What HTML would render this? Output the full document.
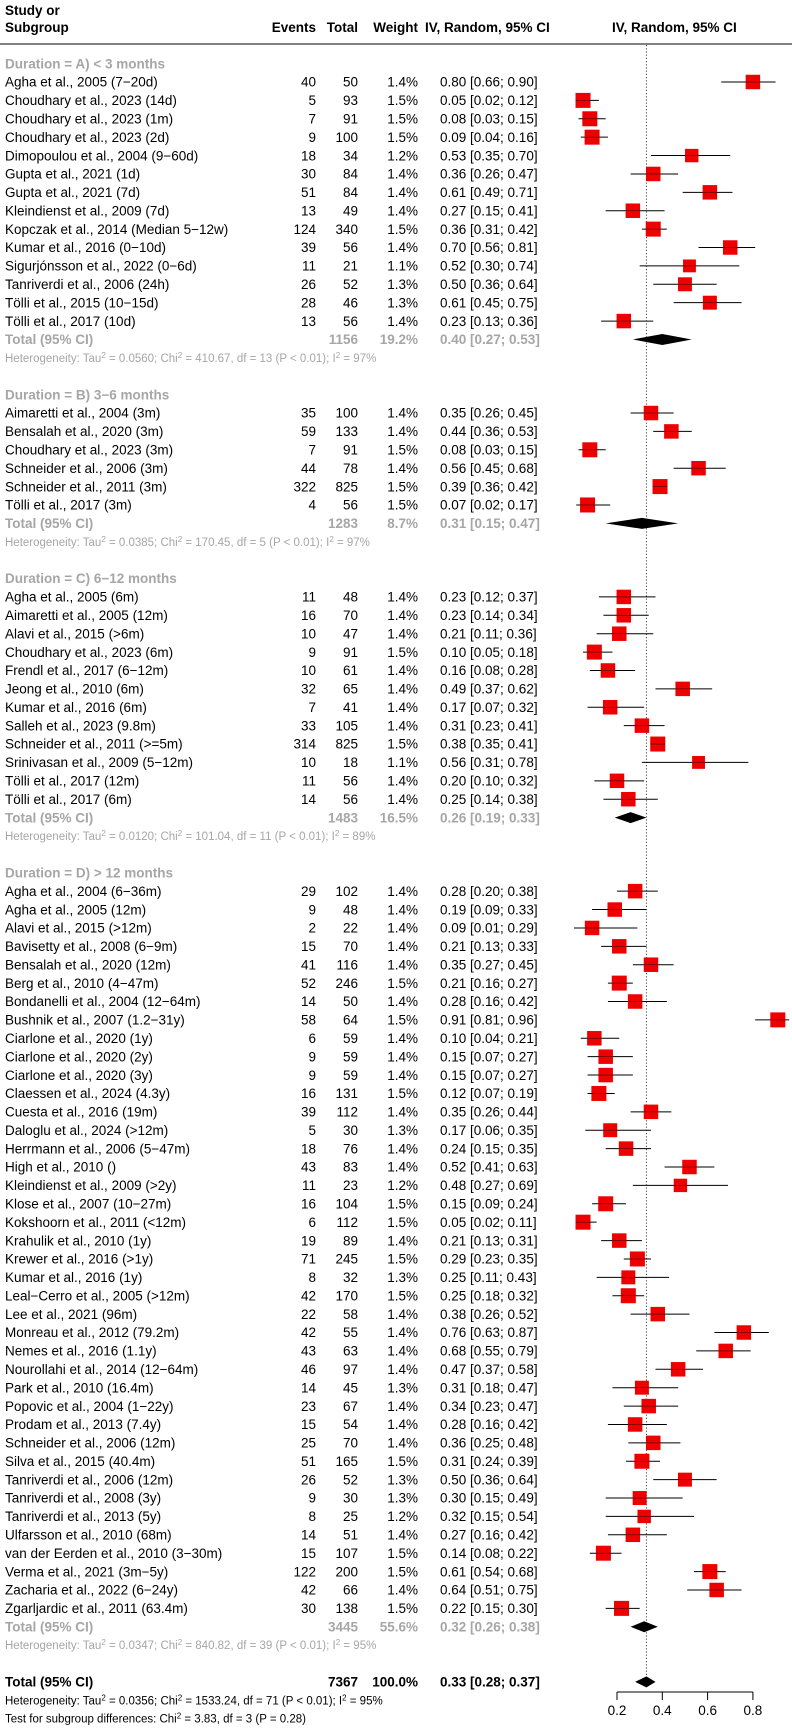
<!DOCTYPE html>
<html><head><meta charset="utf-8"><style>
html,body{margin:0;padding:0;background:#fff;}
svg{display:block;font-family:"Liberation Sans",Arial,sans-serif;}
</style></head><body>
<svg id="plot" width="792" height="1732" viewBox="0 0 792 1732" xmlns="http://www.w3.org/2000/svg">
<g font-size="13.5" font-weight="bold" fill="#000">
<text x="5" y="15">Study or</text>
<text x="5" y="32">Subgroup</text>
<text x="316" y="32" text-anchor="end">Events</text>
<text x="358" y="32" text-anchor="end">Total</text>
<text x="418" y="32" text-anchor="end">Weight</text>
<text x="425" y="32">IV, Random, 95% CI</text>
<text x="612" y="32">IV, Random, 95% CI</text>
</g>
<line x1="0" y1="44" x2="792" y2="44" stroke="#808080" stroke-width="2"/>
<g id="rows"></g>
</svg>
<script>
const groupNames=["Duration = A) < 3 months","Duration = B) 3\u22126 months","Duration = C) 6\u221212 months","Duration = D) > 12 months"];
const groupSizes=[14,6,12,40];
const groupN=[1156,1283,1483,3445];
const groupWeight=["19.2%","8.7%","16.5%","55.6%"];
const groupEst=[0.40,0.31,0.26,0.32];
const groupLo=[0.27,0.15,0.19,0.26];
const groupHi=[0.53,0.47,0.33,0.38];
const groupHet=[["0.0560","410.67","13","97%"],["0.0385","170.45","5","97%"],["0.0120","101.04","11","89%"],["0.0347","840.82","39","95%"]];
const overall={n:7367,w:"100.0%",est:0.33,lo:0.28,hi:0.37,het:["0.0356","1533.24","71","95%"]};
const labels=["Agha et al., 2005 (7\u221220d)","Choudhary et al., 2023 (14d)","Choudhary et al., 2023 (1m)","Choudhary et al., 2023 (2d)","Dimopoulou et al., 2004 (9\u221260d)","Gupta et al., 2021 (1d)","Gupta et al., 2021 (7d)","Kleindienst et al., 2009 (7d)","Kopczak et al., 2014 (Median 5\u221212w)","Kumar et al., 2016 (0\u221210d)","Sigurjónsson et al., 2022 (0\u22126d)","Tanriverdi et al., 2006 (24h)","Tölli et al., 2015 (10\u221215d)","Tölli et al., 2017 (10d)",
"Aimaretti et al., 2004 (3m)","Bensalah et al., 2020 (3m)","Choudhary et al., 2023 (3m)","Schneider et al., 2006 (3m)","Schneider et al., 2011 (3m)","Tölli et al., 2017 (3m)",
"Agha et al., 2005 (6m)","Aimaretti et al., 2005 (12m)","Alavi et al., 2015 (>6m)","Choudhary et al., 2023 (6m)","Frendl et al., 2017 (6\u221212m)","Jeong et al., 2010 (6m)","Kumar et al., 2016 (6m)","Salleh et al., 2023 (9.8m)","Schneider et al., 2011 (>=5m)","Srinivasan et al., 2009 (5\u221212m)","Tölli et al., 2017 (12m)","Tölli et al., 2017 (6m)",
"Agha et al., 2004 (6\u221236m)","Agha et al., 2005 (12m)","Alavi et al., 2015 (>12m)","Bavisetty et al., 2008 (6\u22129m)","Bensalah et al., 2020 (12m)","Berg et al., 2010 (4\u221247m)","Bondanelli et al., 2004 (12\u221264m)","Bushnik et al., 2007 (1.2\u221231y)","Ciarlone et al., 2020 (1y)","Ciarlone et al., 2020 (2y)","Ciarlone et al., 2020 (3y)","Claessen et al., 2024 (4.3y)","Cuesta et al., 2016 (19m)","Daloglu et al., 2024 (>12m)","Herrmann et al., 2006 (5\u221247m)","High et al., 2010 ()","Kleindienst et al., 2009 (>2y)","Klose et al., 2007 (10\u221227m)","Kokshoorn et al., 2011 (<12m)","Krahulik et al., 2010 (1y)","Krewer et al., 2016 (>1y)","Kumar et al., 2016 (1y)","Leal\u2212Cerro et al., 2005 (>12m)","Lee et al., 2021 (96m)","Monreau et al., 2012 (79.2m)","Nemes et al., 2016 (1.1y)","Nourollahi et al., 2014 (12\u221264m)","Park et al., 2010 (16.4m)","Popovic et al., 2004 (1\u221222y)","Prodam et al., 2013 (7.4y)","Schneider et al., 2006 (12m)","Silva et al., 2015 (40.4m)","Tanriverdi et al., 2006 (12m)","Tanriverdi et al., 2008 (3y)","Tanriverdi et al., 2013 (5y)","Ulfarsson et al., 2010 (68m)","van der Eerden et al., 2010 (3\u221230m)","Verma et al., 2021 (3m\u22125y)","Zacharia et al., 2022 (6\u221224y)","Zgarljardic et al., 2011 (63.4m)"];
const events=[40,5,7,9,18,30,51,13,124,39,11,26,28,13, 35,59,7,44,322,4, 11,16,10,9,10,32,7,33,314,10,11,14, 29,9,2,15,41,52,14,58,6,9,9,16,39,5,18,43,11,16,6,19,71,8,42,22,42,43,46,14,23,15,25,51,26,9,8,14,15,122,42,30];
const totals=[50,93,91,100,34,84,84,49,340,56,21,52,46,56, 100,133,91,78,825,56, 48,70,47,91,61,65,41,105,825,18,56,56, 102,48,22,70,116,246,50,64,59,59,59,131,112,30,76,83,23,104,112,89,245,32,170,58,55,63,97,45,67,54,70,165,52,30,25,51,107,200,66,138];
const weights=[1.4,1.5,1.5,1.5,1.2,1.4,1.4,1.4,1.5,1.4,1.1,1.3,1.3,1.4, 1.4,1.4,1.5,1.4,1.5,1.5, 1.4,1.4,1.4,1.5,1.4,1.4,1.4,1.4,1.5,1.1,1.4,1.4, 1.4,1.4,1.4,1.4,1.4,1.5,1.4,1.5,1.4,1.4,1.4,1.5,1.4,1.3,1.4,1.4,1.2,1.5,1.5,1.4,1.5,1.3,1.5,1.4,1.4,1.4,1.4,1.3,1.4,1.4,1.4,1.5,1.3,1.3,1.2,1.4,1.5,1.5,1.4,1.5];
const est=[0.80,0.05,0.08,0.09,0.53,0.36,0.61,0.27,0.36,0.70,0.52,0.50,0.61,0.23, 0.35,0.44,0.08,0.56,0.39,0.07, 0.23,0.23,0.21,0.10,0.16,0.49,0.17,0.31,0.38,0.56,0.20,0.25, 0.28,0.19,0.09,0.21,0.35,0.21,0.28,0.91,0.10,0.15,0.15,0.12,0.35,0.17,0.24,0.52,0.48,0.15,0.05,0.21,0.29,0.25,0.25,0.38,0.76,0.68,0.47,0.31,0.34,0.28,0.36,0.31,0.50,0.30,0.32,0.27,0.14,0.61,0.64,0.22];
const lo=[0.66,0.02,0.03,0.04,0.35,0.26,0.49,0.15,0.31,0.56,0.30,0.36,0.45,0.13, 0.26,0.36,0.03,0.45,0.36,0.02, 0.12,0.14,0.11,0.05,0.08,0.37,0.07,0.23,0.35,0.31,0.10,0.14, 0.20,0.09,0.01,0.13,0.27,0.16,0.16,0.81,0.04,0.07,0.07,0.07,0.26,0.06,0.15,0.41,0.27,0.09,0.02,0.13,0.23,0.11,0.18,0.26,0.63,0.55,0.37,0.18,0.23,0.16,0.25,0.24,0.36,0.15,0.15,0.16,0.08,0.54,0.51,0.15];
const hi=[0.90,0.12,0.15,0.16,0.70,0.47,0.71,0.41,0.42,0.81,0.74,0.64,0.75,0.36, 0.45,0.53,0.15,0.68,0.42,0.17, 0.37,0.34,0.36,0.18,0.28,0.62,0.32,0.41,0.41,0.78,0.32,0.38, 0.38,0.33,0.29,0.33,0.45,0.27,0.42,0.96,0.21,0.27,0.27,0.19,0.44,0.35,0.35,0.63,0.69,0.24,0.11,0.31,0.35,0.43,0.32,0.52,0.87,0.79,0.58,0.47,0.47,0.42,0.48,0.39,0.64,0.49,0.54,0.42,0.22,0.68,0.75,0.30];
const axisTicks=[0.2,0.4,0.6,0.8];

const NS="http://www.w3.org/2000/svg";
const root=document.getElementById('rows');
const X0=617, PX=226.5;
function xs(v){return X0+(v-0.2)*PX;}
const Y0=82, S=18.39;
function yr(i){return Y0+i*S;}
function mk(tag,attrs,parent){const e=document.createElementNS(NS,tag);for(const k in attrs)e.setAttribute(k,attrs[k]);(parent||root).appendChild(e);return e;}
function txt(x,y,s,opts,name){
  const t=mk('text',Object.assign({x:x,y:y+4.7,'font-size':13.5,fill:'#000'},opts||{}));
  t.textContent=s;
  
  
  return t;
}
function fmt(v){return v.toFixed(2);}
function ciStr(e,l,h){return fmt(e)+" ["+fmt(l)+"; "+fmt(h)+"]";}
function het(y,h,color,name){
  const t=mk('text',{x:5,y:y+4,'font-size':11.5,fill:color});
  
  
  const parts=[["Heterogeneity: Tau",0],["2",1],[" = "+h[0]+"; Chi",0],["2",1],[" = "+h[1]+", df = "+h[2]+" (P < 0.01); I",0],["2",1],[" = "+h[3],0]];
  parts.forEach(p=>{const s=mk('tspan',p[1]?{'font-size':8,dy:-4}:{dy:0},t);s.textContent=p[0];if(p[1]){s.setAttribute('data-sup','1');}});
  // fix baselines after superscripts
  const ts=t.querySelectorAll('tspan');ts.forEach((s,i)=>{if(i>0&&!s.getAttribute('data-sup')&&ts[i-1].getAttribute('data-sup'))s.setAttribute('dy',4);});
}
function diamond(y,e,l,h,name){
  const d=mk('polygon',{points:`${xs(l)},${y} ${xs(e)},${y-5.5} ${xs(h)},${y} ${xs(e)},${y+5.5}`,fill:'#000'});
  
  
}
// dotted reference line
const ref=mk('line',{x1:xs(overall.est),x2:xs(overall.est),y1:45,y2:yr(87),stroke:'#444','stroke-width':1,'stroke-dasharray':'1.2,2'});



let idx=0, k=0;
const grey='#a6a6a6';
for(let g=0;g<groupNames.length;g++){
  txt(5,yr(idx-1),groupNames[g],{fill:grey,'font-weight':'bold'},'subgroup-header');
  for(let j=0;j<groupSizes[g];j++,k++,idx++){
    const y=yr(idx);
    txt(5,y,labels[k],{},'study-label');
    txt(316,y,String(events[k]),{'text-anchor':'end'},'study-events');
    txt(358,y,String(totals[k]),{'text-anchor':'end'},'study-total');
    txt(418,y,weights[k].toFixed(1)+"%",{'text-anchor':'end'},'study-weight');
    txt(440,y,ciStr(est[k],lo[k],hi[k]),{},'study-ci');
    const l=mk('line',{x1:xs(lo[k]),x2:xs(hi[k]),y1:y,y2:y,stroke:'#000','stroke-width':1});
    
    
    const sz=15*Math.sqrt(weights[k]/1.5);
    const r=mk('rect',{x:xs(est[k])-sz/2,y:y-sz/2,width:sz,height:sz,fill:'#ee0000'});
    
    
    const c=mk('line',{x1:xs(est[k])-sz/2,x2:xs(est[k])+sz/2,y1:y,y2:y,stroke:'#400','stroke-width':0.6});
    
    
  }
  const ty=yr(idx);
  txt(5,ty,"Total (95% CI)",{fill:grey,'font-weight':'bold'},'subgroup-total-label');
  txt(358,ty,String(groupN[g]),{fill:grey,'font-weight':'bold','text-anchor':'end'},'subgroup-total-n');
  txt(418,ty,groupWeight[g],{fill:grey,'font-weight':'bold','text-anchor':'end'},'subgroup-weight');
  txt(440,ty,ciStr(groupEst[g],groupLo[g],groupHi[g]),{fill:grey,'font-weight':'bold'},'subgroup-ci');
  diamond(ty,groupEst[g],groupLo[g],groupHi[g],'subgroup-diamond');
  het(yr(idx+1),groupHet[g],grey,'subgroup-heterogeneity');
  idx+=4;
}
idx-=1;
const oy=yr(idx);
txt(5,oy,"Total (95% CI)",{'font-weight':'bold'},'overall-total-label');
txt(358,oy,String(overall.n),{'font-weight':'bold','text-anchor':'end'},'overall-total-n');
txt(418,oy,overall.w,{'font-weight':'bold','text-anchor':'end'},'overall-weight');
txt(440,oy,ciStr(overall.est,overall.lo,overall.hi),{'font-weight':'bold'},'overall-ci');
diamond(oy,overall.est,overall.lo,overall.hi,'overall-diamond');
het(yr(idx+1),overall.het,'#000','overall-heterogeneity');
(function(){
  const y=yr(idx+2);
  const t=mk('text',{x:5,y:y+4,'font-size':11.5,fill:'#000'});
  
  
  const a=mk('tspan',{},t);a.textContent="Test for subgroup differences: Chi";
  const b=mk('tspan',{'font-size':8,dy:-4},t);b.textContent="2";
  const c=mk('tspan',{dy:4},t);c.textContent=" = 3.83, df = 3 (P = 0.28)";
})();
// axis
const ay=1692;
const ax=mk('line',{x1:xs(axisTicks[0]),x2:xs(axisTicks[axisTicks.length-1]),y1:ay,y2:ay,stroke:'#000','stroke-width':1});


axisTicks.forEach(v=>{
  const tk=mk('line',{x1:xs(v),x2:xs(v),y1:ay,y2:ay+8,stroke:'#000','stroke-width':1});
  
  
  const lb=mk('text',{x:xs(v),y:ay+23,'font-size':13.5,'text-anchor':'middle',fill:'#000'});
  lb.textContent=String(v);
  
  
});
</script>
</body></html>
